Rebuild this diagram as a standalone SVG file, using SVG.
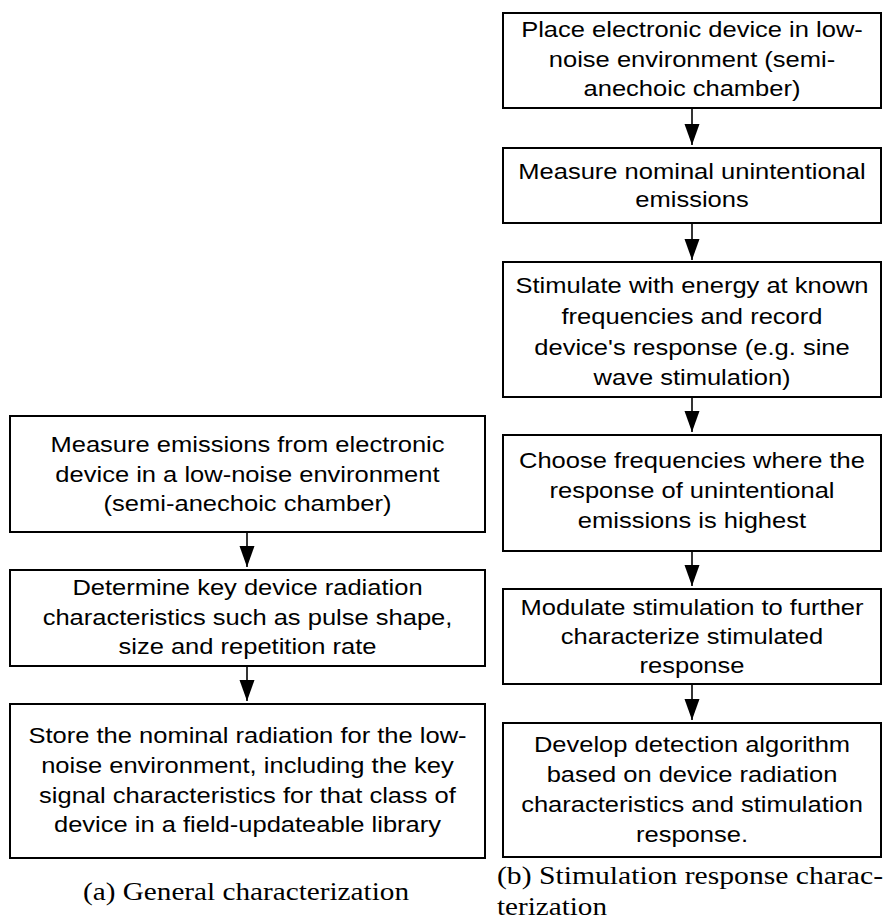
<svg xmlns="http://www.w3.org/2000/svg" width="885" height="920" viewBox="0 0 885 920">
<style>
.box{fill:#fff;stroke:#000;stroke-width:2}
.t{font-family:"Liberation Sans",Arial,Helvetica,sans-serif;font-size:22px;fill:#000;text-anchor:middle;transform-box:fill-box;transform-origin:center;transform:scaleX(1.16)}
.cap{font-family:"Liberation Serif","Times New Roman",serif;font-size:26px;fill:#000}
.conn{stroke:#000;stroke-width:1.6;fill:none}
</style>
<defs>
<marker id="ah" markerUnits="userSpaceOnUse" markerWidth="22" markerHeight="16" refX="21" refY="7.5" orient="auto">
<path d="M0,0 L21,7.5 L0,15 Z" fill="#000"/>
</marker>
</defs>
<rect width="885" height="920" fill="#fff"/>
<g id="connectors">
<line class="conn" x1="692" y1="108" x2="692" y2="145" marker-end="url(#ah)"/>
<line class="conn" x1="692" y1="223" x2="692" y2="260" marker-end="url(#ah)"/>
<line class="conn" x1="692" y1="397" x2="692" y2="432" marker-end="url(#ah)"/>
<line class="conn" x1="692" y1="551" x2="692" y2="586" marker-end="url(#ah)"/>
<line class="conn" x1="692" y1="684" x2="692" y2="720" marker-end="url(#ah)"/>
<line class="conn" x1="247" y1="532" x2="247" y2="567" marker-end="url(#ah)"/>
<line class="conn" x1="247" y1="666" x2="247" y2="701" marker-end="url(#ah)"/>
</g>
<g id="b1">
<rect class="box" x="503" y="13" width="378" height="95"/>
<text class="t" x="692" y="37">Place electronic device in low-</text>
<text class="t" x="692" y="67">noise environment (semi-</text>
<text class="t" x="692" y="96">anechoic chamber)</text>
</g>
<g id="b2">
<rect class="box" x="503" y="148" width="378" height="75"/>
<text class="t" x="692" y="179">Measure nominal unintentional</text>
<text class="t" x="692" y="207">emissions</text>
</g>
<g id="b3">
<rect class="box" x="503" y="262" width="378" height="135"/>
<text class="t" x="692" y="293">Stimulate with energy at known</text>
<text class="t" x="692" y="324">frequencies and record</text>
<text class="t" x="692" y="355">device's response (e.g. sine</text>
<text class="t" x="692" y="385">wave stimulation)</text>
</g>
<g id="b4">
<rect class="box" x="503" y="435" width="378" height="116"/>
<text class="t" x="692" y="468">Choose frequencies where the</text>
<text class="t" x="692" y="498">response of unintentional</text>
<text class="t" x="692" y="528">emissions is highest</text>
</g>
<g id="b5">
<rect class="box" x="503" y="589" width="378" height="95"/>
<text class="t" x="692" y="615">Modulate stimulation to further</text>
<text class="t" x="692" y="644">characterize stimulated</text>
<text class="t" x="692" y="673">response</text>
</g>
<g id="b6">
<rect class="box" x="503" y="723" width="378" height="134"/>
<text class="t" x="692" y="752">Develop detection algorithm</text>
<text class="t" x="692" y="782">based on device radiation</text>
<text class="t" x="692" y="812">characteristics and stimulation</text>
<text class="t" x="692" y="842">response.</text>
</g>
<g id="a1">
<rect class="box" x="10" y="416" width="475" height="116"/>
<text class="t" x="247.5" y="452">Measure emissions from electronic</text>
<text class="t" x="247.5" y="482">device in a low-noise environment</text>
<text class="t" x="247.5" y="511">(semi-anechoic chamber)</text>
</g>
<g id="a2">
<rect class="box" x="10" y="570" width="475" height="96"/>
<text class="t" x="247.5" y="595">Determine key device radiation</text>
<text class="t" x="247.5" y="625">characteristics such as pulse shape,</text>
<text class="t" x="247.5" y="654">size and repetition rate</text>
</g>
<g id="a3">
<rect class="box" x="10" y="704" width="475" height="154"/>
<text class="t" x="247.5" y="743">Store the nominal radiation for the low-</text>
<text class="t" x="247.5" y="773">noise environment, including the key</text>
<text class="t" x="247.5" y="803">signal characteristics for that class of</text>
<text class="t" x="247.5" y="832">device in a field-updateable library</text>
</g>
<g id="captions">
<text class="cap" x="83" y="900" textLength="326" lengthAdjust="spacingAndGlyphs">(a) General characterization</text>
<text class="cap" x="497" y="884" textLength="386" lengthAdjust="spacingAndGlyphs">(b) Stimulation response charac-</text>
<text class="cap" x="497" y="915" textLength="110" lengthAdjust="spacingAndGlyphs">terization</text>
</g>
</svg>
